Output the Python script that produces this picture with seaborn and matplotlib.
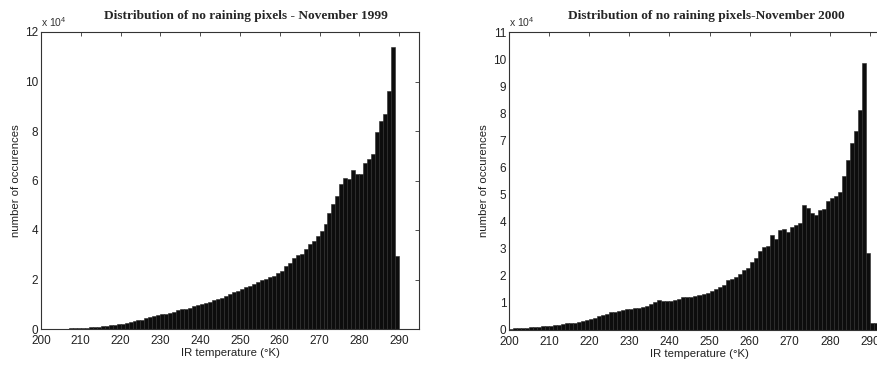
import numpy as np
import pandas as pd
import matplotlib
matplotlib.use("Agg")
import matplotlib.pyplot as plt
import seaborn as sns

# left bin edges (K); counts are in units of 10^4 occurrences
temps_1999 = list(range(207, 290))
counts_1999 = [0.03, 0.03, 0.04, 0.04, 0.05, 0.07, 0.08, 0.09, 0.11, 0.13,
               0.15, 0.18, 0.2, 0.22, 0.26, 0.3, 0.33, 0.36, 0.38, 0.43,
               0.48, 0.53, 0.57, 0.6, 0.62, 0.66, 0.7, 0.76, 0.8, 0.82,
               0.86, 0.92, 0.96, 1.0, 1.04, 1.1, 1.16, 1.22, 1.27, 1.32,
               1.4, 1.48, 1.55, 1.63, 1.7, 1.75, 1.8, 1.9, 1.98, 2.03,
               2.1, 2.15, 2.25, 2.35, 2.55, 2.65, 2.85, 3.0, 3.02, 3.25,
               3.45, 3.55, 3.75, 3.95, 4.25, 4.7, 5.07, 5.37, 5.85, 6.1,
               6.05, 6.42, 6.28, 6.25, 6.72, 6.86, 7.06, 7.94, 8.4, 8.7,
               9.62, 11.38, 2.96]

temps_2000 = list(range(200, 292))
counts_2000 = [0.05, 0.06, 0.07, 0.08, 0.09, 0.1, 0.11, 0.12, 0.13, 0.14,
               0.15, 0.17, 0.19, 0.22, 0.24, 0.26, 0.27, 0.3, 0.35, 0.38,
               0.41, 0.45, 0.5, 0.55, 0.6, 0.65, 0.68, 0.71, 0.73, 0.76,
               0.78, 0.8, 0.82, 0.85, 0.88, 0.95, 1.03, 1.1, 1.08, 1.06,
               1.07, 1.1, 1.15, 1.2, 1.22, 1.23, 1.26, 1.3, 1.34, 1.38,
               1.45, 1.52, 1.6, 1.66, 1.85, 1.9, 1.97, 2.05, 2.2, 2.3,
               2.5, 2.65, 2.92, 3.08, 3.1, 3.5, 3.35, 3.7, 3.72, 3.63,
               3.82, 3.88, 3.94, 4.62, 4.52, 4.33, 4.25, 4.43, 4.47, 4.78,
               4.89, 4.93, 5.11, 5.67, 6.28, 6.92, 7.33, 8.13, 9.85, 2.85,
               0.25, 0.25]

xticks = list(range(200, 300, 10))

# put the value in the middle of each 1 K bin
df99 = pd.DataFrame({"temp": np.array(temps_1999) + 0.5, "count": counts_1999})
df00 = pd.DataFrame({"temp": np.array(temps_2000) + 0.5, "count": counts_2000})

sns.set_style("white")
plt.rcParams['font.family'] = ['Liberation Sans', 'DejaVu Sans']
plt.rcParams['mathtext.default'] = 'regular'

W, H = 877, 365
fig = plt.figure(figsize=(W / 100, H / 100), dpi=100)
fig.patch.set_facecolor('white')

def px_axes(x0, x1, y0, y1):
    # pixel box (top-left origin) -> figure fraction
    return fig.add_axes([x0 / W, (H - y1) / H, (x1 - x0) / W, (y1 - y0) / H])

ax1 = px_axes(41, 419, 32, 329)
ax2 = px_axes(509, 890, 32, 330)

bar_kw = dict(color='#0d0d0d', edgecolor='#2a2a2a', linewidth=0.4, alpha=1)
sns.histplot(data=df99, x="temp", weights="count", binwidth=1,
             binrange=(temps_1999[0], temps_1999[-1] + 1), ax=ax1, **bar_kw)
sns.histplot(data=df00, x="temp", weights="count", binwidth=1,
             binrange=(temps_2000[0], temps_2000[-1] + 1), ax=ax2, **bar_kw)

def style(ax, ymax, ystep):
    ax.set_xlim(200, 295)
    ax.set_ylim(0, ymax)
    ax.set_xticks(xticks)
    yt = np.arange(0, ymax + 0.1, ystep)
    ax.set_yticks(yt)
    ax.set_yticklabels([str(int(v)) for v in yt])
    ax.tick_params(direction='in', length=3, width=0.6, top=True, right=True,
                   labelsize=8.5, colors='#333333')
    ax.tick_params(axis='y', pad=2)
    ax.tick_params(axis='x', pad=4)
    ax.tick_params(labelcolor='#222222')
    for s in ax.spines.values():
        s.set_color('#333333')
        s.set_linewidth(0.8)
    ax.set_xlabel("IR temperature (°K)", fontsize=8.2, color='#222222', labelpad=1)
    ax.set_ylabel("number of occurences", fontsize=8.2, color='#222222', labelpad=3)
    ax.text(0.0, 1.01, r'x 10$^{4}$', transform=ax.transAxes, fontsize=7.5,
            color='#333333', ha='left', va='bottom')

style(ax1, 12, 2)
style(ax2, 11, 1)

fig.text(246 / W, 1 - 16 / H, "Distribution of no raining pixels - November 1999",
         family='Liberation Serif', weight='bold', fontsize=9.6, ha='center', va='center')
fig.text(706 / W, 1 - 16 / H, "Distribution of no raining pixels-November 2000",
         family='Liberation Serif', weight='bold', fontsize=9.6, ha='center', va='center')

fig.savefig("out.png", dpi=100, facecolor='white')
